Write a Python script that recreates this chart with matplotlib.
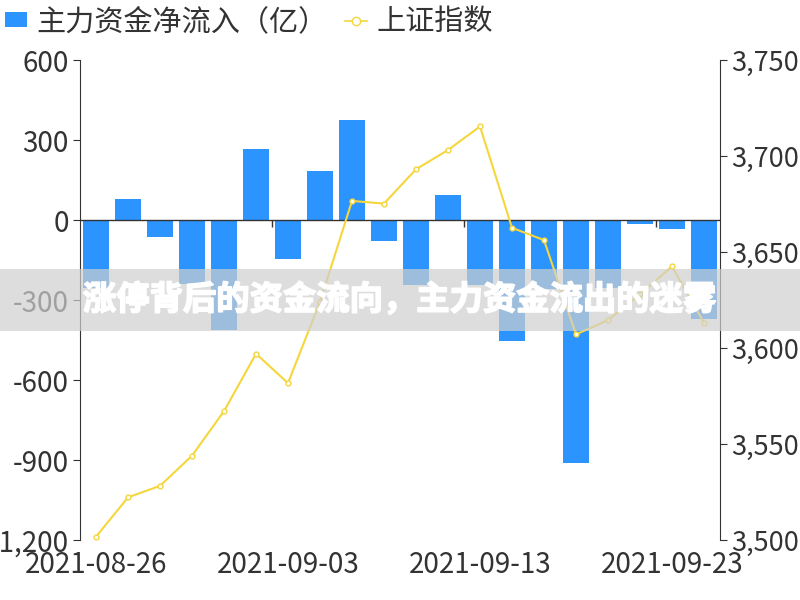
import matplotlib
matplotlib.use("Agg")
import matplotlib.pyplot as plt
import matplotlib.patheffects as pe
from matplotlib.patches import Patch, Rectangle
from matplotlib.lines import Line2D
from matplotlib.ticker import FuncFormatter

plt.rcParams['font.family'] = ['Noto Sans CJK SC', 'DejaVu Sans']

# trading days
dates = ['2021-08-26', '2021-08-27', '2021-08-30', '2021-08-31', '2021-09-01',
         '2021-09-02', '2021-09-03', '2021-09-06', '2021-09-07', '2021-09-08',
         '2021-09-09', '2021-09-10', '2021-09-13', '2021-09-14', '2021-09-15',
         '2021-09-16', '2021-09-17', '2021-09-22', '2021-09-23', '2021-09-24']
# main fund net inflow (100 million yuan)
net_inflow = [-255, 80, -64, -240, -412, 265, -145, 184, 375, -79,
              -244, 95, -244, -454, -260, -911, -255, -16, -34, -372]
# Shanghai composite index
sh_index = [3501.7, 3522.2, 3528.2, 3543.9, 3567.1, 3597.0, 3581.7, 3624.0, 3676.6, 3675.2,
            3693.1, 3703.1, 3715.4, 3662.6, 3656.2, 3607.1, 3614.5, 3628.0, 3642.5, 3613.1]

bar_color = '#2b94ff'
line_color = '#f5d63d'
axis_color = '#333333'

x = list(range(len(dates)))

fig = plt.figure(figsize=(8, 6), dpi=100)
ax = fig.add_axes([0.1, 0.1, 0.8, 0.8])
ax.bar(x, net_inflow, width=0.8, color=bar_color, zorder=2)
ax.set_xlim(-0.5, len(dates) - 0.5)
ax.set_ylim(-1200, 600)
ax.set_yticks([-1200, -900, -600, -300, 0, 300, 600])
ax.yaxis.set_major_formatter(FuncFormatter(lambda v, p: f'{int(v):,}'))

for s in ['top', 'right', 'bottom']:
    ax.spines[s].set_visible(False)
ax.spines['left'].set_color(axis_color)
ax.tick_params(axis='y', colors=axis_color, labelsize=20, length=5, pad=3)
ax.set_xticks([0, 6, 12, 18])
ax.set_xticklabels([dates[i] for i in [0, 6, 12, 18]])
ax.tick_params(axis='x', colors=axis_color, labelsize=20, length=0, pad=7)

# category axis sits on zero
ax.axhline(0, color=axis_color, lw=1, zorder=3)
bounds = [5.5, 11.5, 17.5]
ax.plot(bounds, [0] * len(bounds), linestyle='none', marker=3, markersize=5,
        markeredgewidth=1, color=axis_color, zorder=3, clip_on=False)

ax2 = ax.twinx()
ax2.plot(x, sh_index, color=line_color, lw=1.5, marker='o', markersize=3.5,
         markerfacecolor='white', markeredgecolor=line_color, markeredgewidth=1)
ax2.set_ylim(3500, 3750)
ax2.set_yticks([3500, 3550, 3600, 3650, 3700, 3750])
ax2.yaxis.set_major_formatter(FuncFormatter(lambda v, p: f'{int(v):,}'))
for s in ['top', 'left', 'bottom']:
    ax2.spines[s].set_visible(False)
ax2.spines['right'].set_color(axis_color)
ax2.tick_params(axis='y', colors=axis_color, labelsize=19.5, length=5, pad=3)

handles = [Patch(facecolor=bar_color, edgecolor='none', label='主力资金净流入（亿）'),
           Line2D([], [], color=line_color, lw=1.2, marker='o', markersize=6,
                  markerfacecolor='white', markeredgecolor=line_color, label='上证指数')]
fig.legend(handles=handles, loc='upper left', bbox_to_anchor=(5 / 800, 1 - 7 / 600), ncol=2,
           frameon=False, fontsize=21, handlelength=0.75, handleheight=0.45,
           handletextpad=0.33, columnspacing=0.6, borderpad=0, borderaxespad=0,
           labelcolor=axis_color)

# overlay banner
fig.add_artist(Rectangle((0, 1 - 331 / 600), 1, 62 / 600, transform=fig.transFigure,
                         facecolor='#cfcfcf', alpha=0.7, edgecolor='none', zorder=5))
fig.text(0.5, 0.5, '涨停背后的资金流向，主力资金流出的迷雾', ha='center', va='center',
         fontsize=24, fontweight='heavy', color='white', zorder=6,
         path_effects=[pe.withStroke(linewidth=1.2, foreground='white')])

fig.savefig('out.png', dpi=100)
